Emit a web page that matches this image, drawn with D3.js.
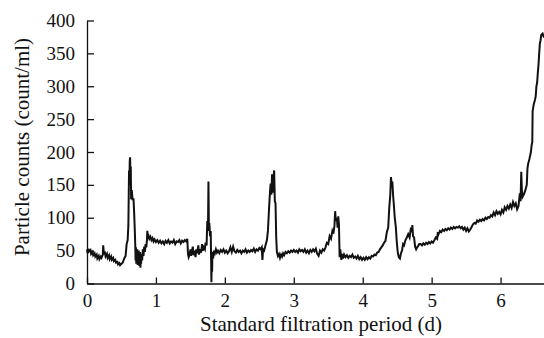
<!DOCTYPE html>
<html>
<head>
<meta charset="utf-8">
<script src="https://cdn.jsdelivr.net/npm/d3@7"></script>
<style>
  body { margin: 0; background: #fff; }
  text { font-family: "Liberation Serif", "Times New Roman", serif; fill: #111; }
  .axis path, .axis line { stroke: #111; stroke-width: 1.3; }
  .axis text { font-size: 19px; }
  .axisText { font-size: 21px; }
</style>
</head>
<body>
<div id="svg-area"></div>
<script>
// particle counts over one filtration run

var days = [
  0.00, 0.01, 0.02, 0.03, 0.05, 0.06, 0.08, 0.09, 0.11, 0.12, 0.14, 0.15, 0.17, 0.18, 0.20, 0.21,
  0.23, 0.235, 0.245, 0.26, 0.27, 0.29, 0.30, 0.32, 0.33, 0.35, 0.36, 0.38, 0.39, 0.41, 0.42, 0.44,
  0.45, 0.47, 0.48, 0.50, 0.52, 0.54, 0.56,
  0.575, 0.59, 0.60, 0.605, 0.61, 0.615, 0.62, 0.625, 0.63, 0.635, 0.64, 0.65, 0.66, 0.675, 0.685,
  0.695, 0.70, 0.705, 0.71, 0.715, 0.72, 0.725, 0.73, 0.735, 0.74, 0.745, 0.75, 0.755, 0.76, 0.765,
  0.77, 0.775, 0.78, 0.785, 0.79, 0.80, 0.81, 0.82, 0.83, 0.84, 0.85, 0.86, 0.87, 0.875, 0.885,
  0.895, 0.905, 0.92, 0.935, 0.95, 0.965,
  0.98, 1.00, 1.02, 1.04, 1.06, 1.08, 1.10, 1.12, 1.14, 1.16, 1.18, 1.20, 1.22, 1.24, 1.26, 1.28,
  1.30, 1.32, 1.34, 1.36, 1.38, 1.40, 1.42, 1.44, 1.455, 1.465, 1.475, 1.49, 1.50, 1.51, 1.52,
  1.535, 1.545, 1.56, 1.575, 1.585, 1.60, 1.615, 1.625, 1.64, 1.655, 1.67, 1.68, 1.695, 1.71, 1.72,
  1.735, 1.745, 1.755, 1.762, 1.768, 1.775, 1.785, 1.795, 1.80, 1.805, 1.81, 1.815, 1.82, 1.83,
  1.84, 1.855, 1.87, 1.885, 1.90, 1.92, 1.94, 1.96, 1.98, 2.00, 2.02, 2.04, 2.06, 2.08, 2.10, 2.12,
  2.14, 2.16, 2.18, 2.20, 2.22, 2.24, 2.26, 2.28, 2.30, 2.32, 2.34, 2.36, 2.38, 2.40, 2.42, 2.44,
  2.46, 2.48, 2.50, 2.52, 2.535, 2.545, 2.555, 2.57, 2.59, 2.61, 2.625, 2.64, 2.655, 2.665, 2.675,
  2.685, 2.695, 2.705, 2.715, 2.725, 2.735, 2.745, 2.755, 2.77, 2.785, 2.80, 2.815, 2.83, 2.845,
  2.86, 2.88, 2.90, 2.92, 2.94, 2.96, 2.98, 3.00, 3.02, 3.04, 3.06, 3.08, 3.10, 3.12, 3.14, 3.16,
  3.18, 3.20, 3.22, 3.24, 3.26, 3.28, 3.30, 3.32, 3.34, 3.36, 3.38, 3.40, 3.42, 3.44, 3.46, 3.48,
  3.50, 3.52, 3.54, 3.56, 3.575, 3.59, 3.60, 3.61, 3.625, 3.635, 3.645, 3.655, 3.665, 3.675, 3.69,
  3.70, 3.715, 3.73, 3.75, 3.77, 3.79, 3.81, 3.83, 3.85, 3.87, 3.89, 3.91, 3.93, 3.95, 3.97, 3.99,
  4.01, 4.03, 4.05, 4.07, 4.09, 4.11, 4.13, 4.15, 4.17, 4.19, 4.21, 4.23, 4.25, 4.27, 4.29, 4.31,
  4.33, 4.35, 4.37, 4.385, 4.40, 4.41, 4.42, 4.43, 4.44, 4.45, 4.465, 4.48, 4.495, 4.51, 4.525,
  4.54, 4.555, 4.57, 4.585, 4.60, 4.62, 4.64, 4.66, 4.68, 4.70, 4.71, 4.72, 4.73, 4.745, 4.76,
  4.775, 4.79, 4.81, 4.82, 4.84, 4.86, 4.88, 4.90, 4.92, 4.94, 4.96, 4.98, 5.00, 5.02, 5.04, 5.06,
  5.08, 5.09, 5.10, 5.12, 5.14, 5.16, 5.18, 5.20, 5.22, 5.24, 5.26, 5.28, 5.30, 5.32, 5.34, 5.36,
  5.38, 5.40, 5.42, 5.44, 5.46, 5.48, 5.50, 5.52, 5.54, 5.56, 5.58, 5.60, 5.62, 5.64, 5.66, 5.68,
  5.70, 5.72, 5.74, 5.76, 5.78, 5.80, 5.82, 5.84, 5.86, 5.88, 5.90, 5.92, 5.94, 5.96, 5.98, 6.00,
  6.02, 6.04, 6.06, 6.08, 6.10, 6.12, 6.14, 6.16, 6.18, 6.20, 6.22, 6.24, 6.26, 6.27, 6.28, 6.29,
  6.30, 6.31, 6.32, 6.34, 6.36, 6.38, 6.39, 6.40, 6.42, 6.44, 6.45, 6.46, 6.465, 6.48, 6.50, 6.51,
  6.52, 6.53, 6.54, 6.55, 6.56, 6.57, 6.58, 6.59, 6.61, 6.63
];

var counts = [
  52, 46, 53, 49, 51, 45, 48, 43, 46, 41, 44, 38, 42, 37, 41, 39,
  44, 58, 46, 47, 41, 45, 39, 43, 37, 41, 36, 39, 34, 36, 32, 33,
  29, 31, 28, 30, 32, 38, 42,
  60, 66, 88, 130, 172, 150, 185, 192, 165, 178, 128, 142, 128, 128, 105,
  76, 58, 35, 55, 30, 48, 38, 52, 28, 45, 33, 50, 27, 44, 35,
  48, 24, 40, 30, 45, 35, 52, 42, 56, 48, 60, 55, 66, 80, 70,
  72, 68, 71, 66, 69, 64,
  67, 63, 66, 62, 65, 61, 64, 60, 65, 62, 66, 61, 64, 62, 66, 60,
  64, 63, 66, 61, 65, 63, 66, 64, 68, 45, 40, 44, 52, 42, 48,
  56, 43, 50, 40, 52, 46, 58, 44, 52, 47, 60, 50, 55, 52, 62,
  58, 95, 80, 155, 88, 92, 72, 80, 40, 2, 46, 18, 48, 38,
  50, 46, 52, 47, 50, 46, 51, 48, 52, 47, 50, 46, 49, 55, 48, 56,
  49, 47, 51, 48, 50, 46, 50, 48, 52, 47, 50, 48, 51, 49, 53, 48,
  52, 50, 54, 52, 55, 36, 52, 50, 58, 66, 80, 112, 140, 152, 135,
  166, 138, 160, 172, 125, 122, 70, 48, 42, 45, 39, 44, 41, 46,
  43, 48, 46, 49, 47, 50, 48, 51, 48, 50, 47, 52, 49, 51, 48, 52,
  47, 50, 46, 51, 48, 52, 49, 53, 45, 42, 50, 47, 52, 50, 55, 62,
  60, 72, 68, 80, 76, 88, 110, 95, 100, 85, 102, 90, 40, 52, 36,
  45, 38, 44, 40, 43, 39, 42, 40, 44, 39, 41, 38, 42, 37, 40, 36,
  39, 36, 40, 37, 40, 38, 42, 41, 44, 43, 47, 48, 52, 55, 58, 62,
  65, 78, 85, 115, 135, 162, 150, 155, 135, 122, 100, 86, 62, 46, 40,
  38, 46, 50, 60, 58, 66, 70, 75, 70, 85, 78, 89, 72, 70, 56,
  52, 55, 58, 60, 60, 58, 61, 59, 62, 60, 63, 61, 64, 62, 66, 70,
  68, 78, 75, 80, 78, 82, 80, 83, 81, 84, 82, 85, 83, 86, 84, 86,
  85, 87, 84, 86, 82, 85, 80, 84, 79, 82, 86, 90, 92, 91, 96, 94,
  97, 95, 98, 96, 100, 98, 101, 100, 104, 102, 108, 104, 110, 106, 109, 105,
  112, 108, 116, 112, 118, 114, 120, 115, 124, 118, 122, 113, 118, 128, 137, 125,
  170, 140, 132, 136, 142, 150, 175, 182, 190, 200, 210, 215, 262, 272, 280, 285,
  300, 305, 320, 332, 350, 365, 370, 378, 380, 374
];

var yTicks = [0, 50, 100, 150, 200, 250, 300, 350, 400];
var xTicks = [0, 1, 2, 3, 4, 5, 6];

// svg container
var svgWidth = 544;
var svgHeight = 338;

var margin = { top: 20.5, right: 0, bottom: 54.5, left: 87 };

var chartWidth = svgWidth - margin.left - margin.right;
var chartHeight = svgHeight - margin.top - margin.bottom;

var svg = d3.select("#svg-area").append("svg")
  .attr("width", svgWidth)
  .attr("height", svgHeight);

var chartGroup = svg.append("g")
  .attr("transform", `translate(${margin.left}, ${margin.top})`);

var series = days.map((d, i) => ({ day: d, count: counts[i] }));

// scales
var xLinearScale = d3.scaleLinear()
  .domain([0, 6.63])
  .range([0, chartWidth]);

var yLinearScale = d3.scaleLinear()
  .domain([0, 400])
  .range([chartHeight, 0]);

// axes, ticks point inward
var bottomAxis = d3.axisBottom(xLinearScale)
  .tickValues(xTicks)
  .tickFormat(d3.format("d"))
  .tickSizeInner(-6)
  .tickSizeOuter(0)
  .tickPadding(10);

var leftAxis = d3.axisLeft(yLinearScale)
  .tickValues(yTicks)
  .tickFormat(d3.format("d"))
  .tickSizeInner(-7)
  .tickSizeOuter(0)
  .tickPadding(12);

chartGroup.append("g")
  .attr("class", "axis")
  .attr("transform", `translate(0, ${chartHeight})`)
  .call(bottomAxis)
  .call(g => g.selectAll("text").attr("font-family", null).attr("font-size", null));

chartGroup.append("g")
  .attr("class", "axis")
  .call(leftAxis)
  .call(g => g.selectAll("text").attr("font-family", null).attr("font-size", null));

// the trace
var line = d3.line()
  .x(d => xLinearScale(d.day))
  .y(d => yLinearScale(d.count));

chartGroup.append("path")
  .datum(series)
  .attr("fill", "none")
  .attr("stroke", "#111")
  .attr("stroke-width", 2)
  .attr("stroke-linejoin", "miter")
  .attr("d", line);

// axis labels
svg.append("text")
  .attr("transform", "rotate(-90)")
  .attr("x", -147)
  .attr("y", 29)
  .attr("text-anchor", "middle")
  .attr("class", "axisText")
  .text("Particle counts (count/ml)");

svg.append("text")
  .attr("x", 321)
  .attr("y", 331)
  .attr("text-anchor", "middle")
  .attr("class", "axisText")
  .text("Standard filtration period (d)");
</script>
</body>
</html>
